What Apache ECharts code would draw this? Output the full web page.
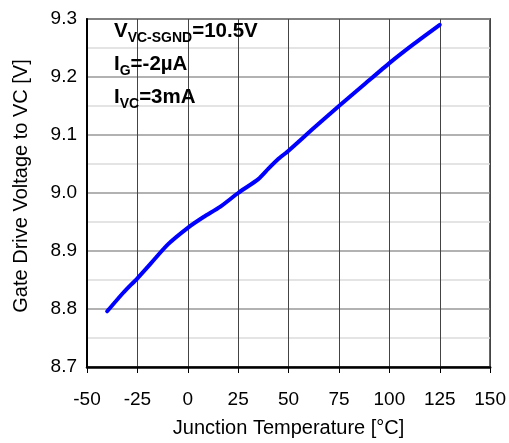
<!DOCTYPE html>
<html>
<head>
<meta charset="utf-8">
<script src="https://cdn.jsdelivr.net/npm/echarts@6/dist/echarts.min.js"></script>
<style>
html,body{margin:0;padding:0;background:#fff;}
#chart{width:509px;height:443px;}
</style>
</head>
<body>
<div id="chart"></div>
<script>
var temperatures = [-40, -32, -25, -18, -10, 0, 8, 16, 25, 35, 40, 45, 50, 62.5, 75, 87.5, 100, 112.5, 125];
var voltages = [8.796, 8.828, 8.853, 8.880, 8.911, 8.940, 8.959, 8.976, 9.000, 9.024, 9.042, 9.059, 9.073, 9.112, 9.150, 9.187, 9.224, 9.258, 9.290];
var xTicks = [-50, -25, 0, 25, 50, 75, 100, 125, 150];
var yTicks = [8.7, 8.8, 8.9, 9.0, 9.1, 9.2, 9.3];
var annotationLines = [
  ['V', 'VC-SGND', '=10.5V'],
  ['I', 'G', '=-2µA'],
  ['I', 'VC', '=3mA']
];

var FONT = '"Liberation Sans", Arial, sans-serif';
var chart = echarts.init(document.getElementById('chart'), null, {renderer: 'canvas'});

var seriesData = temperatures.map(function (t, i) { return [t, voltages[i]]; });

var graphics = annotationLines.map(function (ln, i) {
  return {
    type: 'text',
    left: 114,
    top: 21 + i * 33,
    z: 100,
    style: {
      text: '{m|' + ln[0] + '}{s|' + ln[1] + '}{m|' + ln[2] + '}',
      fontFamily: FONT,
      rich: {
        m: {fontSize: 20.5, fontWeight: 'bold', fontFamily: FONT, lineHeight: 20, verticalAlign: 'top', fill: '#000'},
        s: {fontSize: 14, fontWeight: 'bold', fontFamily: FONT, lineHeight: 14, padding: [10, 0, 0, 0], verticalAlign: 'top', fill: '#000'}
      }
    }
  };
});

chart.setOption({
  animation: false,
  backgroundColor: '#fff',
  grid: {left: 87, right: 17, top: 19, bottom: 72, show: true, borderColor: '#000', borderWidth: 1.5, backgroundColor: 'transparent'},
  xAxis: {
    type: 'value',
    min: xTicks[0], max: xTicks[xTicks.length - 1], interval: 25,
    name: 'Junction Temperature [°C]',
    nameLocation: 'middle', nameGap: 51,
    nameTextStyle: {fontFamily: FONT, fontSize: 20, color: '#000'},
    axisLine: {show: true, onZero: false, lineStyle: {color: '#000', width: 2.5}},
    axisTick: {show: true, length: 6, lineStyle: {color: '#000', width: 1}},
    axisLabel: {fontFamily: FONT, fontSize: 19, color: '#000', margin: 23},
    splitLine: {show: true, lineStyle: {color: '#444', width: 1}}
  },
  yAxis: {
    type: 'value',
    min: yTicks[0], max: yTicks[yTicks.length - 1], interval: 0.1,
    name: 'Gate Drive Voltage to VC [V]',
    nameLocation: 'middle', nameGap: 56,
    nameTextStyle: {fontFamily: FONT, fontSize: 20, color: '#000', padding: [0, 0, 0, 14]},
    axisLine: {show: true, onZero: false, lineStyle: {color: '#000', width: 2}},
    axisTick: {show: false},
    axisLabel: {fontFamily: FONT, fontSize: 19, color: '#000', margin: 10, formatter: function (v) { return v.toFixed(1); }},
    splitLine: {show: true, lineStyle: {color: '#999', width: 1.5}},
    minorTick: {show: false, splitNumber: 2},
    minorSplitLine: {show: true, lineStyle: {color: '#dcdcdc', width: 1.5}}
  },
  series: [{
    type: 'line',
    data: seriesData,
    smooth: 0.2,
    showSymbol: false,
    lineStyle: {color: '#0000ff', width: 4, cap: 'round'},
    z: 10
  }],
  graphic: graphics
});
</script>
</body>
</html>
